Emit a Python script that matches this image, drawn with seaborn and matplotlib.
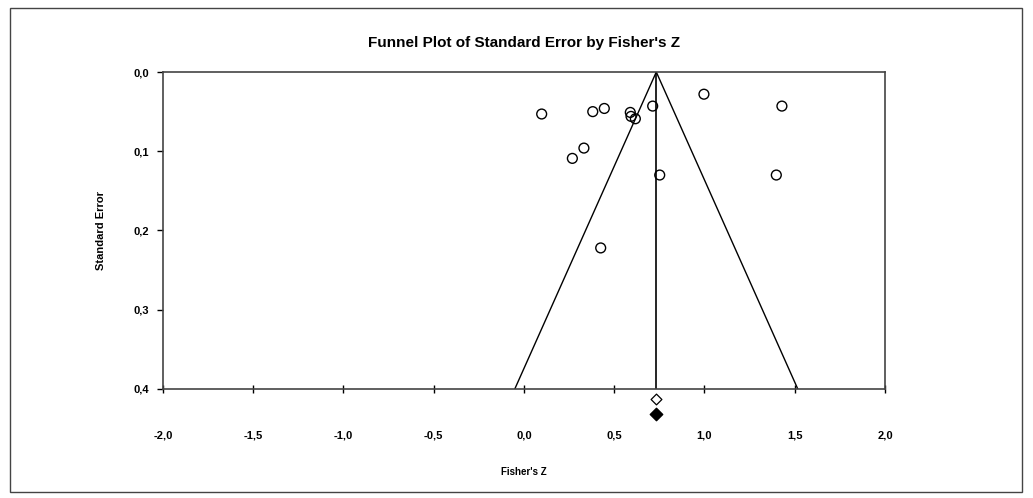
import matplotlib
matplotlib.use("Agg")
import matplotlib.pyplot as plt
import matplotlib.patches as patches
from matplotlib.ticker import FuncFormatter
import seaborn as sns
import pandas as pd

# Datos
fisher_z = [0.098, 0.381, 0.445, 0.589, 0.593, 0.617, 0.713, 0.997, 1.429,
            0.332, 0.268, 0.752, 1.398, 0.425]
std_err = [0.053, 0.050, 0.046, 0.051, 0.056, 0.059, 0.043, 0.028, 0.043,
           0.096, 0.109, 0.130, 0.130, 0.222]
summary_z = 0.733
se_max = 0.4
diamond_open_y = 0.413
diamond_filled_y = 0.432

x_ticks = [-2.0, -1.5, -1.0, -0.5, 0.0, 0.5, 1.0, 1.5, 2.0]
y_ticks = [0.0, 0.1, 0.2, 0.3, 0.4]

df = pd.DataFrame({"z": fisher_z, "se": std_err})

sns.set_style("white")
plt.rcParams["font.family"] = ["Liberation Sans", "DejaVu Sans"]
plt.rcParams["text.color"] = "black"
plt.rcParams["axes.labelcolor"] = "black"
plt.rcParams["xtick.color"] = "black"
plt.rcParams["ytick.color"] = "black"

fig = plt.figure(figsize=(10.33, 4.98), dpi=100)
ax = fig.add_axes([0.1578, 0.2189, 0.6989, 0.6365])

# marco exterior
fig.patches.append(patches.Rectangle((0.0097, 0.012), 0.9797, 0.972, transform=fig.transFigure,
                                     fill=False, edgecolor="#444444", linewidth=1.0))

sns.scatterplot(data=df, x="z", y="se", ax=ax, marker="o", s=50,
                facecolor="none", edgecolor="black", linewidth=1.0, zorder=3)

# embudo y linea del efecto combinado
funnel_x = [summary_z - 1.96 * se_max, summary_z, summary_z + 1.96 * se_max]
funnel_y = [se_max, 0.0, se_max]
ax.plot(funnel_x, funnel_y, color="black", linewidth=1.0)
ax.plot([summary_z, summary_z], [0.0, se_max], color="black", linewidth=1.2)

# diamantes debajo del eje
ax.scatter([summary_z], [diamond_open_y], marker="D", s=30, facecolor="white",
           edgecolor="black", linewidth=0.9, clip_on=False, zorder=4)
ax.scatter([summary_z], [diamond_filled_y], marker="D", s=40, facecolor="black",
           edgecolor="black", clip_on=False, zorder=4)

ax.set_xlim(-2.0, 2.0)
ax.set_ylim(se_max, 0.0)
ax.set_xticks(x_ticks)
ax.set_yticks(y_ticks)
fmt = FuncFormatter(lambda v, p: f"{v:.1f}".replace(".", ","))
ax.xaxis.set_major_formatter(fmt)
ax.yaxis.set_major_formatter(fmt)
ax.tick_params(axis="x", bottom=True, direction="inout", length=6, width=1, pad=27, labelsize=8)
ax.tick_params(axis="y", left=True, direction="out", length=4, width=1, pad=6, labelsize=8)
for lab in ax.get_xticklabels() + ax.get_yticklabels():
    lab.set_fontweight("bold")

for s in ax.spines.values():
    s.set_visible(True)
    s.set_color("#444444")
    s.set_linewidth(1.2)

ax.set_xlabel("Fisher's Z", fontsize=7, fontweight="bold", labelpad=19)
ax.set_ylabel("Standard Error", fontsize=8, fontweight="bold", labelpad=20)
ax.set_title("Funnel Plot of Standard Error by Fisher's Z", fontsize=11,
             fontweight="bold", pad=18)

fig.savefig("out.png", dpi=100)
